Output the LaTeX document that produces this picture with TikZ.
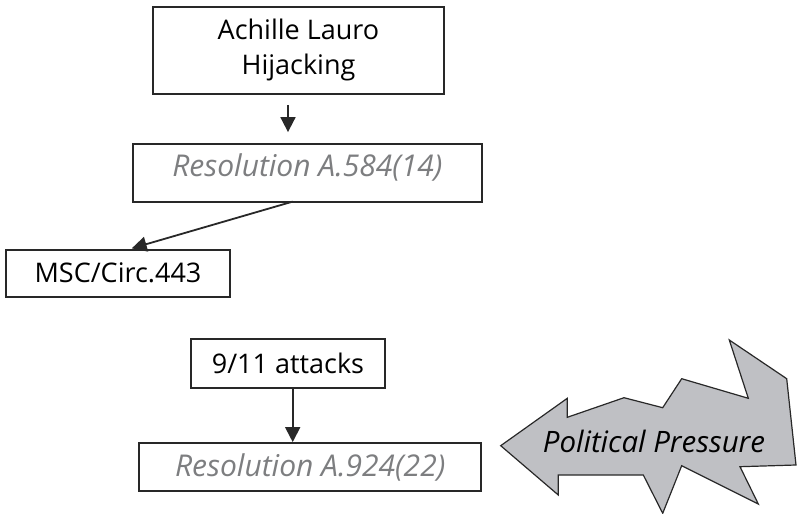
\documentclass[tikz,border=0pt]{standalone}
\usepackage{fontspec}
\setmainfont{Open Sans}
\usetikzlibrary{arrows.meta,calc}
\definecolor{linecol}{RGB}{40,40,40}
\definecolor{restext}{RGB}{125,126,128}
\definecolor{pressfill}{RGB}{191,192,196}
\tikzset{
  box/.style={draw=linecol, line width=1.8pt, inner sep=0pt, fill=white},
  arr/.style={draw=linecol, line width=1.8pt, -{Triangle[length=15pt,width=15pt]}},
  restxt/.style={text=restext, font=\fontsize{30}{34}\selectfont\itshape},
  plain/.style={text=black, font=\fontsize{27}{35}\selectfont},
}
\begin{document}
\begin{tikzpicture}[x=1pt,y=-1pt]
\useasboundingbox (0,0) rectangle (798,514);

% first chain
\node[box, plain, align=center, minimum width=291.6pt, minimum height=87.3pt]
  (hijack) at (298.5,50.35) {Achille Lauro\\Hijacking};
\node[box, restxt, anchor=base, text height=32.7pt, text depth=25.3pt, minimum width=348.4pt]
  (res1) at (307.4,176.7) {Resolution A.584(14)};
\node[box, plain, anchor=base, text height=32.7pt, text depth=14.6pt, minimum width=224pt]
  (msc) at (118,282.7) {MSC/Circ.443};

\coordinate (col1) at (288,0);
\draw[arr, shorten <=10pt, shorten >=11pt] (hijack.south -| col1) -- (res1.north -| col1);
\draw[arr] ($(res1.south)+(-14.7,-1.3)$) -- ($(msc.north)+(13.7,-0.7)$);

% second chain
\node[box, plain, anchor=base, text height=34pt, text depth=15pt, minimum width=194pt]
  (attacks) at (288,373.3) {9/11 attacks};
\node[box, restxt, anchor=base, text height=33.7pt, text depth=14pt, minimum width=342.3pt]
  (res2) at (310.2,476.7) {Resolution A.924(22)};

\coordinate (col2) at (292.7,0);
\draw[arr] (attacks.south -| col2) -- (res2.north -| col2);

% political pressure arrow
\draw[draw=linecol, line width=1.2pt, fill=pressfill, line join=miter]
  (500.7,445.7) -- (567.3,398.3) -- (567.3,417.3) -- (624,397.7) -- (662.7,407.7)
  -- (681.7,378.7) -- (748.3,398.3) -- (729.3,340) -- (786.7,378.7) -- (796,465)
  -- (740,466.7) -- (758.3,504) -- (681.7,465.7) -- (662.7,513.3) -- (643.3,475)
  -- (558.3,475) -- (558.3,495) -- cycle;
\node[font=\fontsize{29.5}{33}\selectfont\itshape, anchor=base] (pressure) at (654,452.3) {Political Pressure};
\end{tikzpicture}
\end{document}
